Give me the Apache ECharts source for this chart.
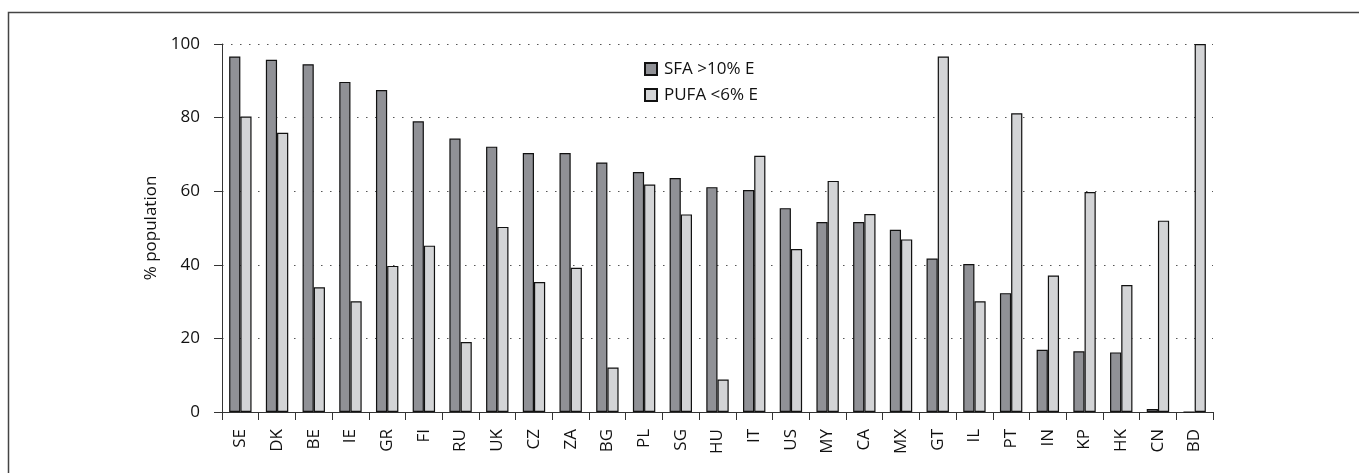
<!DOCTYPE html>
<html>
<head>
<meta charset="utf-8">
<script src="https://cdn.jsdelivr.net/npm/echarts@6/dist/echarts.min.js"></script>
<style>
html,body{margin:0;padding:0;background:#fff;}
#chart{width:1359px;height:473px;}
</style>
</head>
<body>
<div id="chart"></div>
<script>
const categories = ['SE','DK','BE','IE','GR','FI','RU','UK','CZ','ZA','BG','PL','SG','HU','IT','US','MY','CA','MX','GT','IL','PT','IN','KP','HK','CN','BD'];
const sfaValues  = [96.6,95.7,94.5,89.7,87.5,79.0,74.3,72.1,70.4,70.4,67.8,65.2,63.6,61.1,60.3,55.4,51.6,51.6,49.5,41.7,40.2,32.3,16.9,16.5,16.2,0.8,0];
const pufaValues = [80.3,75.9,33.9,30.1,39.7,45.2,19.0,50.3,35.3,39.2,12.1,61.8,53.7,8.8,69.6,44.3,62.8,53.8,46.9,96.6,30.1,81.2,37.1,59.8,34.5,52.0,100];
const yTicks = [0,20,40,60,80,100];
const seriesNames = ['SFA >10% E','PUFA <6% E'];

const chart = echarts.init(document.getElementById('chart'), null, {renderer:'canvas'});
const font = '"Open Sans", "Noto Sans", sans-serif';
const txt = '#111';
chart.setOption({
  backgroundColor:'#fff',
  animation:false,
  textStyle:{fontFamily:font},
  graphic:[{
    type:'rect', silent:true,
    shape:{x:8.5,y:12.5,width:1400,height:520},
    style:{fill:'none',stroke:'#444',lineWidth:1.5}
  }],
  legend:{
    orient:'vertical', left:639, top:55,
    itemWidth:12, itemHeight:12, itemGap:8,
    icon:'rect',
    textStyle:{fontFamily:font,fontSize:17,color:txt,lineHeight:18,padding:[0,0,0,2]},
    data:seriesNames
  },
  grid:{left:222,right:146,top:44,bottom:61,containLabel:false},
  xAxis:{
    type:'category', data:categories,
    axisLine:{lineStyle:{color:'#333',width:1}},
    axisTick:{show:true,length:8,alignWithLabel:false,lineStyle:{color:'#333'}},
    axisLabel:{rotate:90,margin:17,fontSize:17,color:txt,fontFamily:font,interval:0},
    splitLine:{show:false}
  },
  yAxis:{
    type:'value', min:yTicks[0], max:yTicks[yTicks.length-1], interval:20,
    name:'% population', nameLocation:'middle', nameGap:45,
    nameTextStyle:{fontSize:17,color:txt,fontFamily:font},
    axisLine:{show:true,lineStyle:{color:'#333',width:1}},
    axisTick:{show:true,length:8,lineStyle:{color:'#333'}},
    axisLabel:{margin:22,fontSize:17,color:txt,fontFamily:font},
    splitLine:{show:true,lineStyle:{color:'#555',type:[1.5,7.5],width:1.2}}
  },
  series:[
    {name:seriesNames[0],type:'bar',data:sfaValues,barGap:'0%',barCategoryGap:'39%',
     itemStyle:{color:'#909196',borderColor:'#111',borderWidth:1.2}},
    {name:seriesNames[1],type:'bar',data:pufaValues,barGap:'0%',barCategoryGap:'39%',
     itemStyle:{color:'#d3d4d6',borderColor:'#111',borderWidth:1.2}}
  ]
});
</script>
</body>
</html>
